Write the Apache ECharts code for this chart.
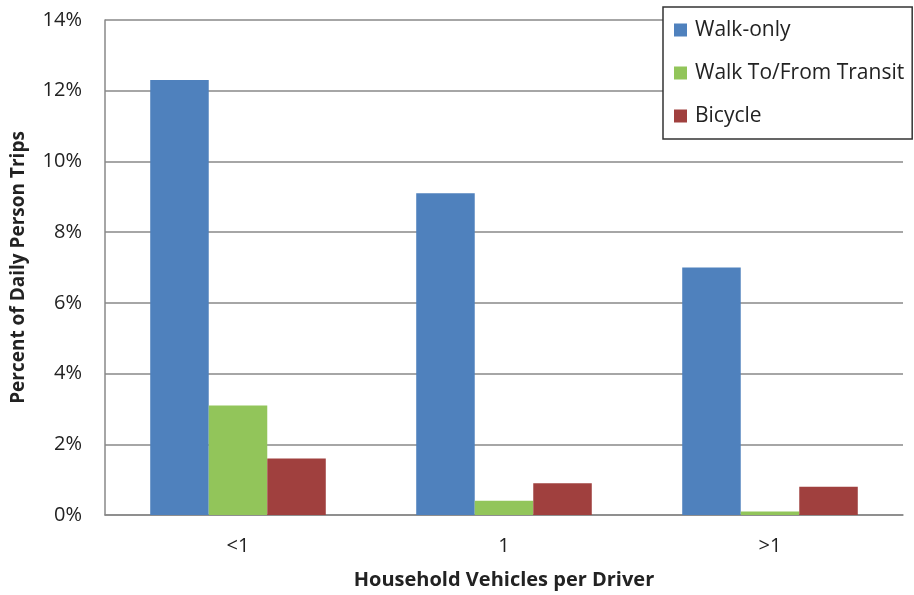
<!DOCTYPE html>
<html>
<head>
<meta charset="utf-8">
<title>Household Vehicles per Driver</title>
<script src="https://cdn.jsdelivr.net/npm/echarts@6/dist/echarts.min.js"></script>
<style>
  html, body { margin: 0; padding: 0; background: #fff; }
  #chart { width: 914px; height: 595px; }
</style>
</head>
<body>
<div id="chart"></div>
<script>
// categories and values (percent of daily person trips)
const categories = ['<1', '1', '>1'];
const walkOnly = [12.3, 9.1, 7.0];
const walkTransit = [3.1, 0.4, 0.1];
const bicycle = [1.6, 0.9, 0.8];
const seriesNames = ['Walk-only', 'Walk To/From Transit', 'Bicycle'];

const font = '"Open Sans", Lato, sans-serif';
const chart = echarts.init(document.getElementById('chart'));

const option = {
  animation: false,
  color: ['#4F81BD', '#92C55A', '#A0403E'],
  textStyle: { fontFamily: font },
  grid: { left: 105, right: 11, top: 20, bottom: 80 },
  legend: {
    orient: 'vertical',
    left: 663,
    top: 7,
    padding: [12, 8, 12, 11],
    itemGap: 21,
    itemWidth: 13,
    itemHeight: 13,
    icon: 'rect',
    borderColor: '#333',
    borderWidth: 1.5,
    backgroundColor: '#fff',
    textStyle: { fontSize: 21, lineHeight: 22, color: '#222', fontFamily: font, padding: [0, 0, 0, 3] },
    data: seriesNames
  },
  xAxis: {
    type: 'category',
    data: categories,
    name: 'Household Vehicles per Driver',
    nameLocation: 'middle',
    nameGap: 55,
    nameTextStyle: { fontSize: 20, fontWeight: 'bold', color: '#222' },
    axisLine: { lineStyle: { color: '#888', width: 1.5 } },
    axisTick: { show: false },
    axisLabel: { fontSize: 20, color: '#222', margin: 21 }
  },
  yAxis: {
    type: 'value',
    min: 0,
    max: 14,
    interval: 2,
    name: 'Percent of Daily Person Trips',
    nameLocation: 'middle',
    nameGap: 77,
    nameTextStyle: { fontSize: 19, fontWeight: 'bold', color: '#222' },
    axisLine: { show: true, lineStyle: { color: '#888', width: 1.5 } },
    axisTick: { show: false },
    axisLabel: { formatter: '{value}%', fontSize: 20, color: '#222', margin: 23 },
    splitLine: { lineStyle: { color: '#888', width: 1.5 } }
  },
  series: [
    { name: seriesNames[0], type: 'bar', data: walkOnly, barGap: '0%', barCategoryGap: '34%' },
    { name: seriesNames[1], type: 'bar', data: walkTransit, barGap: '0%', barCategoryGap: '34%' },
    { name: seriesNames[2], type: 'bar', data: bicycle, barGap: '0%', barCategoryGap: '34%' }
  ]
};

chart.setOption(option);
</script>
</body>
</html>
